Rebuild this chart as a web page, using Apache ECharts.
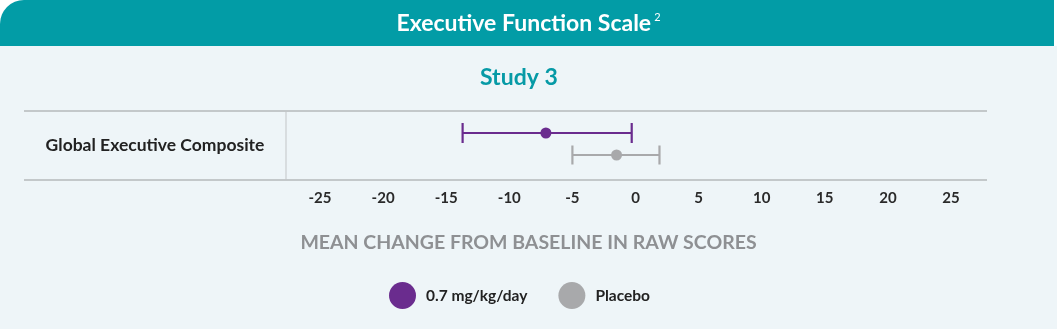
<!DOCTYPE html>
<html>
<head>
<meta charset="utf-8">
<script src="https://cdn.jsdelivr.net/npm/echarts@6/dist/echarts.min.js"></script>
<style>
  html, body { margin: 0; padding: 0; background: #ffffff; }
  #chart { width: 1057px; height: 329px; }
</style>
</head>
<body>
<div id="chart"></div>
<script>
// Outcome row and treatment groups
const categories = ['Global Executive Composite'];
const groups = ['0.7 mg/kg/day', 'Placebo'];

// Mean change from baseline with lower / upper interval bounds
const meanChange = [-7.1, -1.5];
const lowerBound = [-13.7, -5.0];
const upperBound = [-0.3, 1.9];

// Axis ticks
const tickValues = [-25, -20, -15, -10, -5, 0, 5, 10, 15, 20, 25];

const colors = ['#6a2c8e', '#a8a9ab'];
const rowOffsets = [-12.5, 9.5];   // vertical offset of each group within the row
const capHalf = [10, 9.5];
const lineWidths = [2.2, 2.2];
const dotSizes = [11, 11];
const fontFamily = 'Lato, "Noto Sans", sans-serif';

const chart = echarts.init(document.getElementById('chart'), null, { renderer: 'canvas' });

function errorBarSeries(i) {
  return {
    type: 'custom',
    name: groups[i],
    z: 3,
    itemStyle: { color: colors[i] },
    data: [[lowerBound[i], upperBound[i], 0]],
    renderItem: function (params, api) {
      const lo = api.coord([api.value(0), api.value(2)]);
      const hi = api.coord([api.value(1), api.value(2)]);
      const y = lo[1] + rowOffsets[i];
      const style = { stroke: colors[i], lineWidth: lineWidths[i] };
      return {
        type: 'group',
        children: [
          { type: 'line', shape: { x1: lo[0], y1: y, x2: hi[0], y2: y }, style: style },
          { type: 'line', shape: { x1: lo[0], y1: y - capHalf[i], x2: lo[0], y2: y + capHalf[i] }, style: style },
          { type: 'line', shape: { x1: hi[0], y1: y - capHalf[i], x2: hi[0], y2: y + capHalf[i] }, style: style }
        ]
      };
    }
  };
}

function pointSeries(i) {
  return {
    type: 'custom',
    name: groups[i],
    z: 4,
    itemStyle: { color: colors[i] },
    data: [[meanChange[i], 0]],
    renderItem: function (params, api) {
      const c = api.coord([api.value(0), api.value(1)]);
      return {
        type: 'circle',
        shape: { cx: c[0], cy: c[1] + rowOffsets[i], r: dotSizes[i] / 2 },
        style: { fill: colors[i] }
      };
    }
  };
}

const option = {
  backgroundColor: '#eef5f8',
  animation: false,
  graphic: [
    // header band
    {
      type: 'rect', z: -1, silent: true,
      shape: { x: 0, y: 0, width: 1057, height: 46 },
      style: { fill: '#ffffff' }
    },
    {
      type: 'rect', z: 0, silent: true,
      shape: { x: 0, y: 0, width: 1054, height: 46, r: [24, 0, 0, 0] },
      style: { fill: '#029ca6' }
    },
    {
      type: 'text', z: 2,
      left: 'center', top: 12,
      style: {
        text: '{t|Executive Function Scale}{s|2}',
        rich: {
          t: { fill: '#ffffff', fontSize: 23, fontWeight: 'bold', fontFamily: fontFamily },
          s: { fill: '#ffffff', fontSize: 11, fontFamily: fontFamily, verticalAlign: 'top', padding: [0, 0, 8, 3] }
        }
      }
    },
    {
      type: 'text', z: 2,
      left: 480, top: 66,
      style: { text: 'Study 3', fill: '#069aa6', fontSize: 23, fontWeight: 'bold', fontFamily: fontFamily }
    },
    // axis title
    {
      type: 'text', z: 2,
      left: 'center', top: 233,
      style: {
        text: 'MEAN CHANGE FROM BASELINE IN RAW SCORES',
        fill: '#8e9093', fontSize: 19.5, fontWeight: 'bold', fontFamily: fontFamily
      }
    },
    // table rules
    {
      type: 'line', z: 1, silent: true,
      shape: { x1: 24, y1: 111, x2: 987, y2: 111 },
      style: { stroke: '#b5b8bb', lineWidth: 1.5 }
    },
    {
      type: 'line', z: 1, silent: true,
      shape: { x1: 24, y1: 180, x2: 987, y2: 180 },
      style: { stroke: '#b5b8bb', lineWidth: 1.5 }
    },
    {
      type: 'line', z: 1, silent: true,
      shape: { x1: 286, y1: 111, x2: 286, y2: 180 },
      style: { stroke: '#c2c5c7', lineWidth: 1 }
    }
  ],
  grid: { left: 320, right: 106, top: 111, bottom: 149, containLabel: false },
  xAxis: {
    type: 'value',
    min: tickValues[0],
    max: tickValues[tickValues.length - 1],
    interval: 5,
    axisLine: { show: false },
    axisTick: { show: false },
    splitLine: { show: false },
    axisLabel: {
      margin: 11,
      color: '#2a2a2a',
      fontSize: 15,
      fontWeight: 'bold',
      fontFamily: fontFamily,
      customValues: tickValues
    }
  },
  yAxis: {
    type: 'category',
    data: categories,
    axisLine: { show: false },
    axisTick: { show: false },
    splitLine: { show: false },
    axisLabel: {
      margin: 165,
      align: 'center',
      color: '#222222',
      fontSize: 17.5,
      fontWeight: 'bold',
      fontFamily: fontFamily,
      padding: [7, 0, 0, 0]
    }
  },
  legend: {
    data: groups.map(function (g) { return { name: g, icon: 'circle' }; }),
    left: 384,
    top: 277,
    itemWidth: 27,
    itemHeight: 27,
    itemGap: 31,
    selectedMode: false,
    textStyle: {
      color: '#222222',
      fontSize: 15.5,
      fontWeight: 'bold',
      fontFamily: fontFamily,
      padding: [0, 0, 0, 5]
    }
  },
  series: [errorBarSeries(0), errorBarSeries(1), pointSeries(0), pointSeries(1)]
};

chart.setOption(option);
</script>
</body>
</html>
